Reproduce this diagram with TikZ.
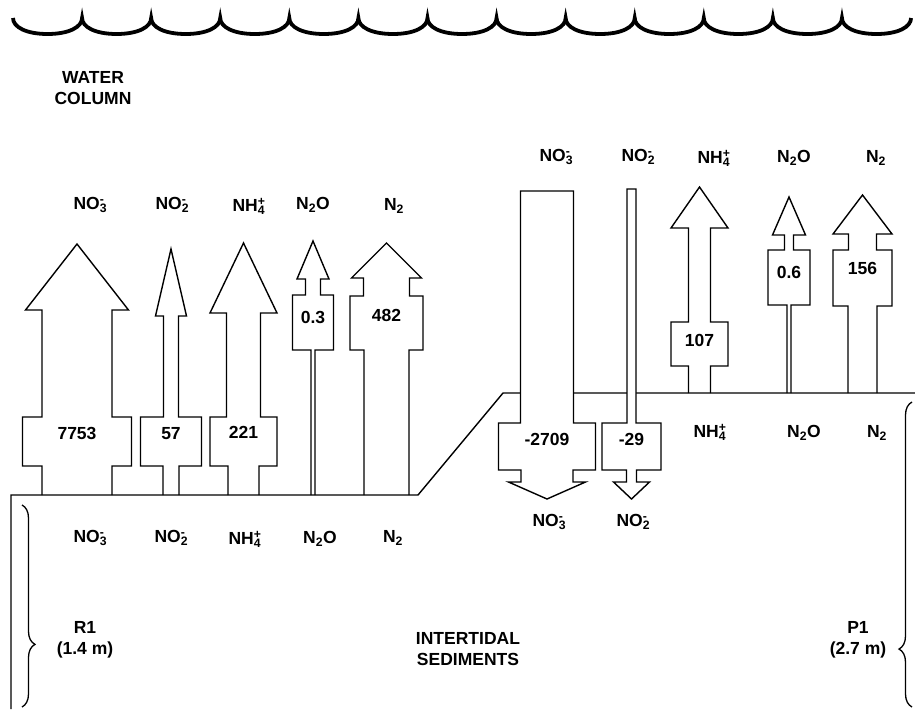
\documentclass[tikz,border=0pt]{standalone}
\usepackage{fontspec}
\setmainfont{Liberation Sans}
\usetikzlibrary{decorations.pathreplacing}
\newcommand{\chemion}[3]{#1\rlap{\textsubscript{#2}}\textsuperscript{#3}}

\begin{document}
\begin{tikzpicture}[x=1pt, y=-1pt,
  every node/.style={font=\fontsize{17.5}{20.5}\selectfont\bfseries, inner sep=0pt},
  species/.style={anchor=center},
  fluxval/.style={anchor=center},
  fluxarrow/.style={draw, line width=1.4pt, line join=miter},
  downarrow/.style={fluxarrow, fill=white},
  ground/.style={line width=1.4pt},
  wave/.style={line width=3.8pt},
  sedbrace/.style={decorate, decoration={brace, amplitude=13pt, aspect=#1}, line width=1.3pt}
]
  \useasboundingbox (0,0) rectangle (915,709);

  % water surface
  \draw[wave] (13,18) \foreach \i in {0,...,12} {
    .. controls ({13+69.08*\i},27) and ({26+69.08*\i},34) .. ({47.54+69.08*\i},34)
    .. controls ({69.08+69.08*\i},34) and ({82.08+69.08*\i},27) .. ({82.08+69.08*\i},18)};

  \node[align=center] (wc) at (93,88) {WATER\\COLUMN};

  % sediment surface and side
  \coordinate (gl) at (11,495);
  \coordinate (gk) at (418,495);
  \coordinate (gu) at (503,393);
  \coordinate (gr) at (915,393);
  \coordinate (gb) at (11,709);
  \draw[ground] (gb) -- (gl) -- (gk) -- (gu) -- (gr);

  % upward fluxes
  \foreach \cx/\ty/\hw/\hb/\nw/\bt/\bw/\bb/\lw/\ly/\val/\g [count=\i] in {
      77/244/51.5/310/35/417/54.5/466/35/433/7753/495,
      171/249/15.5/316/7.5/417/30.5/466/8/434/57/495,
      243.5/243/33.5/313/17/417/33.5/466/15.5/432/221/495,
      313/241/16/279/7.5/295/20.5/350/2/317/0.3/495,
      386.5/243/35/278/23/296/36.5/350/22.5/315/482/495,
      699.5/187/28.5/228/11/322/28.5/366/11/340/107/393,
      789/197/16.5/235/4.5/250/21/305/2/272/0.6/393,
      862.5/195/29.5/234/14/250/29.5/306/14.5/268/156/393} {
    \draw[fluxarrow] ({\cx-\lw},\g) -- ({\cx-\lw},\bb) -- ({\cx-\bw},\bb) -- ({\cx-\bw},\bt)
      -- ({\cx-\nw},\bt) -- ({\cx-\nw},\hb) -- ({\cx-\hw},\hb) -- (\cx,\ty)
      -- ({\cx+\hw},\hb) -- ({\cx+\nw},\hb) -- ({\cx+\nw},\bt) -- ({\cx+\bw},\bt)
      -- ({\cx+\bw},\bb) -- ({\cx+\lw},\bb) -- ({\cx+\lw},\g);
    \node[fluxval] (up\i) at (\cx,\ly) {\val};
  }

  % downward fluxes
  \foreach \cx/\st/\sw/\bt/\bw/\bb/\nw/\hb/\hw/\ty/\val [count=\i] in {
      547/191/26.5/423/48.5/470/26/482/38.5/499/-2709,
      631.5/189/4.5/423/29.5/470/5/482/18/499/-29} {
    \draw[downarrow] ({\cx-\sw},\st) -- ({\cx+\sw},\st) -- ({\cx+\sw},\bt) -- ({\cx+\bw},\bt)
      -- ({\cx+\bw},\bb) -- ({\cx+\nw},\bb) -- ({\cx+\nw},\hb) -- ({\cx+\hw},\hb) -- (\cx,\ty)
      -- ({\cx-\hw},\hb) -- ({\cx-\nw},\hb) -- ({\cx-\nw},\bb) -- ({\cx-\bw},\bb)
      -- ({\cx-\bw},\bt) -- ({\cx-\sw},\bt) -- cycle;
    \node[fluxval] (dn\i) at (\cx,439) {\val};
  }

  % species in the water column
  \node[species] (wNOiii) at (89,205) {\chemion{NO}{3}{-}};
  \node[species] (wNOii)  at (171,205) {\chemion{NO}{2}{-}};
  \node[species] (wNHiv)  at (249,206) {\chemion{NH}{4}{+}};
  \node[species] (wNNO)   at (313,205) {N\textsubscript{2}O};
  \node[species] (wNN)    at (394,206) {N\textsubscript{2}};
  \node[species] (pNOiii) at (555,157) {\chemion{NO}{3}{-}};
  \node[species] (pNOii)  at (637,157) {\chemion{NO}{2}{-}};
  \node[species] (pNHiv)  at (714,158) {\chemion{NH}{4}{+}};
  \node[species] (pNNO)   at (794,158) {N\textsubscript{2}O};
  \node[species] (pNN)    at (876,158) {N\textsubscript{2}};

  % species in the sediments
  \node[species] (sNOiii) at (89,538) {\chemion{NO}{3}{-}};
  \node[species] (sNOii)  at (170,538) {\chemion{NO}{2}{-}};
  \node[species] (sNHiv)  at (245,539) {\chemion{NH}{4}{+}};
  \node[species] (sNNO)   at (320,539) {N\textsubscript{2}O};
  \node[species] (sNN)    at (393,538) {N\textsubscript{2}};
  \node[species] (qNOiii) at (548,522) {\chemion{NO}{3}{-}};
  \node[species] (qNOii)  at (632,522) {\chemion{NO}{2}{-}};
  \node[species] (qNHiv)  at (710,432) {\chemion{NH}{4}{+}};
  \node[species] (qNNO)   at (804,433) {N\textsubscript{2}O};
  \node[species] (qNN)    at (877,433) {N\textsubscript{2}};

  \node[align=center] (sed) at (468,649) {INTERTIDAL\\SEDIMENTS};
  \node[align=center] (rone) at (85,640) {R1\\(1.4 m)};
  \node[align=center] (pone) at (858,640) {P1\\(2.7 m)};

  % station braces
  \coordinate (rtop) at (22,505);
  \coordinate (rbot) at (22,707);
  \coordinate (ptop) at (912,402);
  \coordinate (pbot) at (912,707);
  \draw[sedbrace=0.69] (rtop) -- (rbot);
  \draw[sedbrace=0.19] (pbot) -- (ptop);
\end{tikzpicture}
\end{document}
